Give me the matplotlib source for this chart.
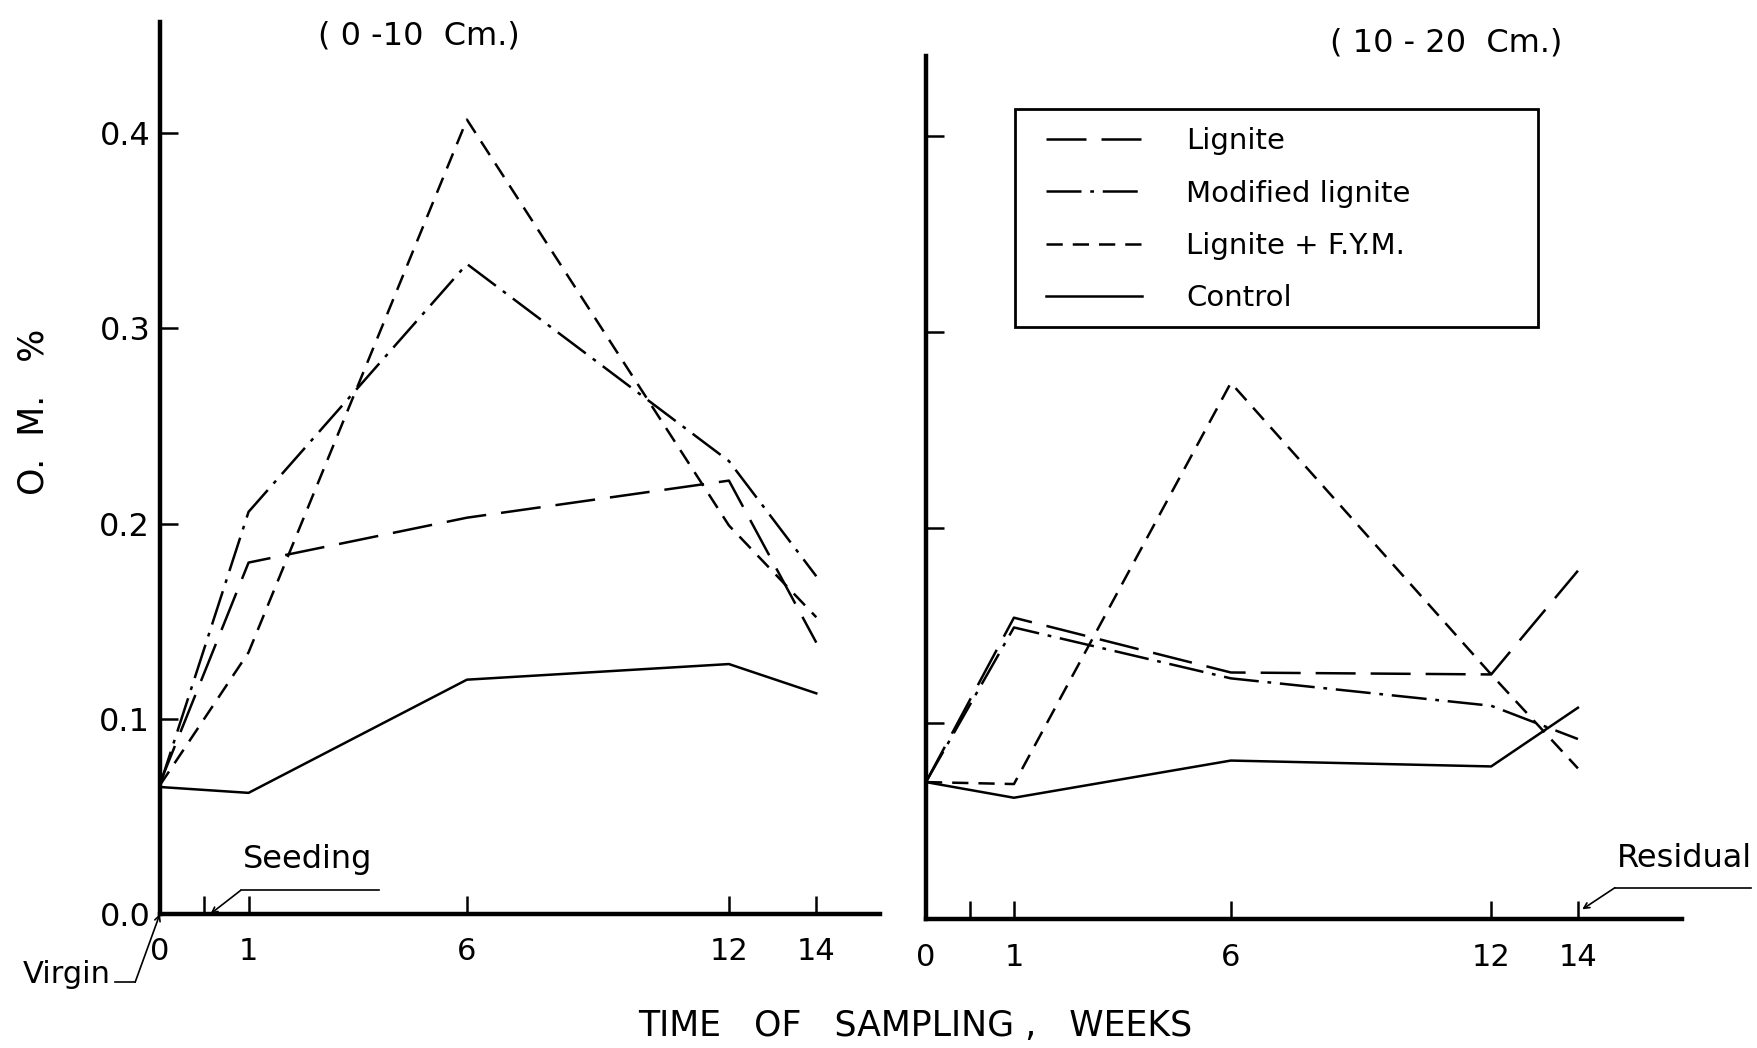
import numpy as np
import matplotlib.pyplot as plt
from matplotlib.patches import Rectangle

# sampling times (weeks) and O.M. %
weeks = [0, 1, 6, 12, 14]
week_labels = ['0', '1', '6', '12', '14']
seeding_week = 0.5
om_ticks = [0.0, 0.1, 0.2, 0.3, 0.4]
om_labels = ['0.0', '0.1', '0.2', '0.3', '0.4']

# 0-10 cm
top_lignite = [0.067, 0.180, 0.203, 0.222, 0.139]
top_modified = [0.066, 0.206, 0.333, 0.232, 0.173]
top_fym = [0.066, 0.134, 0.407, 0.199, 0.152]
top_control = [0.065, 0.062, 0.120, 0.128, 0.113]

# 10-20 cm
sub_lignite = [0.070, 0.154, 0.126, 0.125, 0.178]
sub_modified = [0.070, 0.149, 0.123, 0.109, 0.092]
sub_fym = [0.070, 0.069, 0.274, 0.125, 0.077]
sub_control = [0.070, 0.062, 0.081, 0.078, 0.108]

# the time axis is stretched between virgin (0) and week 1
GAP = 0.493
def fwd(w):
    w = np.asarray(w, dtype=float)
    return np.where(w < 1, w, 1 + (w - 1) * GAP)

def inv(u):
    u = np.asarray(u, dtype=float)
    return np.where(u < 1, u, 1 + (u - 1) / GAP)

plt.rcParams['font.family'] = 'DejaVu Sans'
fig = plt.figure(figsize=(17.58, 10.48), dpi=100)
ax1 = fig.add_axes([0.091, 0.128, 0.4096, 0.851])
ax2 = fig.add_axes([0.5267, 0.123, 0.4301, 0.8236])

styles = {
    'Lignite': dict(dashes=(16, 6)),
    'Modified lignite': dict(dashes=(14, 3.5, 1.5, 3.5)),
    'Lignite + F.Y.M.': dict(dashes=(6.5, 4)),
    'Control': dict(linestyle='-'),
}

def draw(ax, series, xmax, ymax):
    ax.set_xscale('function', functions=(fwd, inv))
    for (name, vals) in series:
        ax.plot(weeks, vals, color='black', lw=1.8, label=name, **styles[name])
    ax.set_xlim(0, xmax)
    ax.set_ylim(0, ymax)
    for s in ['top', 'right']:
        ax.spines[s].set_visible(False)
    for s in ['left', 'bottom']:
        ax.spines[s].set_linewidth(3.2)
    ax.set_xticks([0, seeding_week, 1, 6, 12, 14])
    ax.set_xticklabels(['0', '', '1', '6', '12', '14'], fontsize=22)
    ax.set_xticks([], minor=True)
    ax.set_yticks(om_ticks[1:])
    ax.tick_params(direction='in', length=13, width=1.8)
    ax.tick_params(axis='x', pad=17)
    ax.patch.set_alpha(0)

draw(ax1, [('Lignite', top_lignite), ('Modified lignite', top_modified),
           ('Lignite + F.Y.M.', top_fym), ('Control', top_control)], 15.46, 0.457)
draw(ax2, [('Lignite', sub_lignite), ('Modified lignite', sub_modified),
           ('Lignite + F.Y.M.', sub_fym), ('Control', sub_control)], 16.4, 0.441)

ax1.set_yticks(om_ticks)
ax1.set_yticklabels(om_labels, fontsize=23)
ax1.tick_params(axis='y', pad=7)
ax2.set_yticklabels([])

# annotations
arrow = dict(arrowstyle='->', lw=1.2, color='black', shrinkA=0, shrinkB=0)
ax1.annotate('', xy=(0.57, 0.0), xytext=(0.91, 0.012), arrowprops=arrow, annotation_clip=False)
ax1.plot([0.91, 3.98], [0.012, 0.012], color='black', lw=1.2, clip_on=False)
ax1.text(2.34, 0.028, 'Seeding', ha='center', va='center', fontsize=23)

ax1.annotate('', xy=(0, 0), xytext=(-0.28, -0.035), arrowprops=arrow, annotation_clip=False)
ax1.plot([-0.51, -0.28], [-0.035, -0.035], color='black', lw=1.2, clip_on=False)
ax1.text(-0.55, -0.031, 'Virgin', ha='right', va='center', fontsize=22)

ax2.annotate('', xy=(14.1, 0.005), xytext=(14.85, 0.016), arrowprops=arrow, annotation_clip=False)
ax2.plot([14.85, 18.0], [0.016, 0.016], color='black', lw=1.2, clip_on=False)
ax2.text(16.45, 0.031, 'Residual', ha='center', va='center', fontsize=23)

# legend: entries without frame, box drawn separately (it has a wide right margin)
leg = ax2.legend(loc='upper left', bbox_to_anchor=(1046 / 1758, 1 - 127 / 1048),
                 bbox_transform=fig.transFigure, fontsize=21, frameon=False,
                 handlelength=3.3, handletextpad=1.5, labelspacing=0.84,
                 borderpad=0, borderaxespad=0)
fig.patches.append(Rectangle((1015 / 1758, 1 - 327 / 1048), 523 / 1758, 218 / 1048,
                             transform=fig.transFigure, fill=False,
                             edgecolor='black', lw=2))

fig.text(419 / 1758, 1 - 36 / 1048, '( 0 -10  Cm.)', ha='center', va='center', fontsize=23)
fig.text(1446 / 1758, 1 - 43 / 1048, '( 10 - 20  Cm.)', ha='center', va='center', fontsize=23)
fig.text(34 / 1758, 1 - 412 / 1048, 'O.  M.   %', rotation=90, ha='center', va='center', fontsize=25)
fig.text(915 / 1758, 1 - 1026 / 1048, 'TIME   OF   SAMPLING ,   WEEKS', ha='center', va='center', fontsize=25)

fig.savefig('out.png', dpi=100)
